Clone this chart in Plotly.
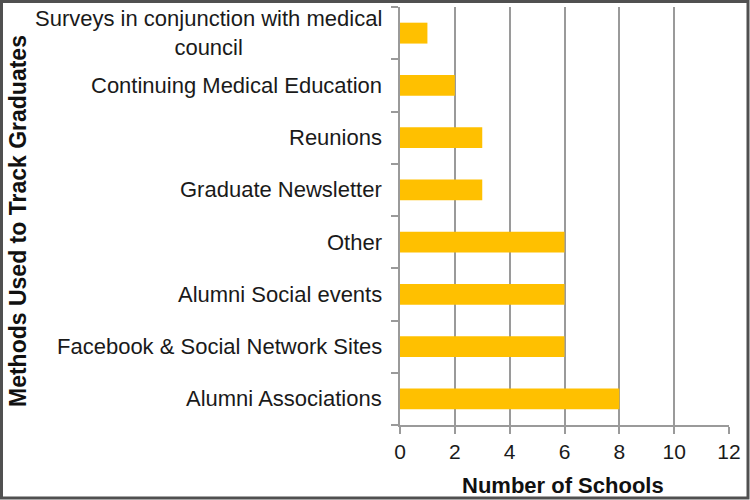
import plotly.graph_objects as go

categories = [
    "Alumni Associations",
    "Facebook & Social Network Sites",
    "Alumni Social events",
    "Other",
    "Graduate Newsletter",
    "Reunions",
    "Continuing Medical Education",
    "Surveys in conjunction with medical<br>council",
]
values = [8, 6, 6, 6, 3, 3, 2, 1]
x_ticks = [0, 2, 4, 6, 8, 10, 12]

W, H = 750, 500
L, R, T, B = 400, 21, 7, 75
pw, ph = W - L - R, H - T - B

def px_x(p):
    return (p - L) / pw

def px_y(p):
    return (H - B - p) / ph

FONT = "Liberation Sans, Arial, sans-serif"
GRID = "#9a9a9a"

fig = go.Figure()
fig.add_trace(go.Bar(
    y=categories, x=values, orientation="h",
    marker=dict(color="#FFC000", line=dict(width=0)),
    width=0.4,
))

fig.update_layout(
    width=W, height=H,
    margin=dict(l=L, r=R, t=T, b=B, pad=0),
    paper_bgcolor="white", plot_bgcolor="white",
    showlegend=False,
    font=dict(family=FONT, size=21, color="#1a1a1a"),
    xaxis=dict(
        range=[0, 12], tickvals=x_ticks, showgrid=True, gridcolor=GRID, gridwidth=1.5,
        zeroline=False, showline=True, linecolor=GRID, linewidth=1.5,
        ticks="outside", ticklen=7, tickcolor=GRID, tickwidth=1.5,
        tickfont=dict(size=21, family=FONT, color="#1a1a1a"),
        fixedrange=True,
    ),
    yaxis=dict(
        type="category", categoryorder="array", categoryarray=categories,
        range=[-0.5, len(categories) - 0.5],
        showticklabels=False, showgrid=False, zeroline=False,
        showline=True, linecolor=GRID, linewidth=1.5,
        ticks="outside", tickson="boundaries", ticklen=7, tickcolor=GRID, tickwidth=1.5,
        fixedrange=True,
    ),
)

# category labels (centered multi-line, right-anchored next to axis)
for c in categories:
    fig.add_annotation(
        x=0, xref="paper", y=c, yref="y", text=c, showarrow=False,
        xanchor="right", yanchor="middle", align="center", xshift=-16,
        font=dict(size=22, family=FONT, color="#1a1a1a"),
    )

# axis titles
fig.add_annotation(
    x=px_x(563), xref="paper", y=px_y(486), yref="paper",
    text="<b>Number of Schools</b>", showarrow=False,
    xanchor="center", yanchor="middle",
    font=dict(size=22, family=FONT, color="#111111"),
)
fig.add_annotation(
    x=px_x(18), xref="paper", y=px_y(221), yref="paper",
    text="<b>Methods Used to Track Graduates</b>", showarrow=False,
    textangle=-90, xanchor="center", yanchor="middle",
    font=dict(size=23, family=FONT, color="#111111"),
)

# image frame
fig.add_shape(
    type="rect", xref="paper", yref="paper",
    x0=px_x(1.5), x1=px_x(748), y0=px_y(498), y1=px_y(1.5),
    line=dict(color="#505050", width=3), layer="above",
)

fig.write_html(
    "out.html",
    config={"displayModeBar": False},
    post_script="document.body.style.margin='0';document.body.style.overflow='hidden';",
)
